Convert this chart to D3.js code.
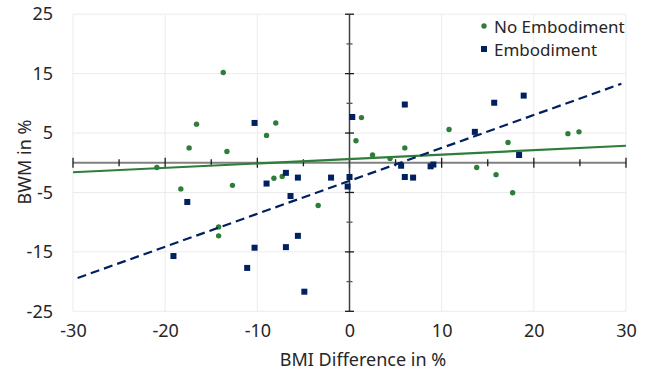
<!DOCTYPE html>
<html>
<head>
<meta charset="utf-8">
<script src="https://cdn.jsdelivr.net/npm/d3@7"></script>
<style>
  body { margin: 0; background: #fff; }
  svg { font-family: 'Noto Sans', sans-serif; }
</style>
</head>
<body>
<div id="chart"></div>
<script>
// no embodiment: [bmi difference, bwm]
const noEmbodiment = [
  [-13.7, 15.2], [-16.6, 6.5], [-8.0, 6.7], [-9.0, 4.6], [-17.4, 2.5],
  [-13.3, 1.9], [-20.9, -0.8], [-8.2, -2.6], [-7.3, -2.3], [-12.7, -3.8],
  [1.3, 7.6], [0.7, 3.7], [2.5, 1.3], [4.4, 0.7], [6.0, 2.5],
  [10.8, 5.6], [17.2, 3.4], [23.7, 4.9], [24.9, 5.2], [13.8, -0.8],
  [15.9, -2.0], [17.7, -5.05], [-18.3, -4.4], [-14.2, -10.8], [-14.2, -12.3],
  [-3.4, -7.2]
];

// embodiment: [bmi difference, bwm]
const embodiment = [
  [-10.3, 6.7], [-6.9, -1.7], [-9.0, -3.5], [0.3, 7.7], [6.0, 9.8],
  [-5.6, -2.5], [-2.0, -2.5], [0.0, -2.4], [5.6, -0.5], [6.0, -2.4],
  [6.9, -2.5], [8.8, -0.6], [9.1, -0.3], [15.7, 10.1], [18.9, 11.3],
  [13.6, 5.2], [18.4, 1.3], [-17.6, -6.6], [-6.4, -5.6], [-10.3, -14.3],
  [-19.1, -15.7], [-11.1, -17.7], [-6.9, -14.2], [-5.6, -12.3], [-4.9, -21.7],
  [-0.2, -4.0]
];

// linear trendlines: [x, y] endpoints
const trendNoEmbodiment = [[-30, -1.6], [30, 2.86]];
const trendEmbodiment = [[-29.5, -19.4], [29.5, 13.3]];

const xTicks = [-30, -20, -10, 0, 10, 20, 30];
const yTicks = [25, 15, 5, -5, -15, -25];
const xMinorTicks = d3.range(-25, 30, 10);
const yMinorTicks = [20, 10, -10, -20];

const width = 652;
const height = 375;
const green = '#2f7d3a';
const navy = '#002060';

const svg = d3.select('#chart')
  .append('svg')
  .attr('width', width)
  .attr('height', height);

const x = d3.scaleLinear()
  .domain([-30, 30])
  .range([73, 626]);

const y = d3.scaleLinear()
  .domain([-25, 25])
  .range([311.3, 14.2]);

// gridlines
svg.append('g')
  .selectAll('line')
  .data(xTicks)
  .join('line')
  .attr('x1', (d) => x(d))
  .attr('x2', (d) => x(d))
  .attr('y1', y(25))
  .attr('y2', y(-25))
  .attr('stroke', '#ebebeb')
  .attr('stroke-width', 1);

svg.append('g')
  .selectAll('line')
  .data(yTicks)
  .join('line')
  .attr('x1', x(-30))
  .attr('x2', x(30))
  .attr('y1', (d) => y(d))
  .attr('y2', (d) => y(d))
  .attr('stroke', '#ebebeb')
  .attr('stroke-width', 1);

// tick labels along the bottom and left of the plot
svg.append('g')
  .attr('transform', `translate(0,${y(-25) + 10})`)
  .call(d3.axisBottom(x).tickValues(xTicks).tickSize(0).tickFormat((d) => d))
  .call((g) => g.select('.domain').remove())
  .call((g) => g.selectAll('text')
    .attr('font-size', 18)
    .attr('fill', '#262626')
    .attr('font-family', 'Noto Sans'));

svg.append('g')
  .attr('transform', `translate(${x(-30) - 17},0)`)
  .call(d3.axisLeft(y).tickValues(yTicks).tickSize(0).tickFormat((d) => d))
  .call((g) => g.select('.domain').remove())
  .call((g) => g.selectAll('text')
    .attr('font-size', 18)
    .attr('fill', '#262626')
    .attr('font-family', 'Noto Sans'));

// horizontal axis through y = 0 with crossing ticks
const hAxis = svg.append('g');
hAxis.append('line')
  .attr('x1', x(-30))
  .attr('x2', x(30))
  .attr('y1', y(0))
  .attr('y2', y(0))
  .attr('stroke', '#808080')
  .attr('stroke-width', 2);
hAxis.selectAll('.major')
  .data(xTicks)
  .join('line')
  .attr('class', 'major')
  .attr('x1', (d) => x(d))
  .attr('x2', (d) => x(d))
  .attr('y1', y(0) - 5)
  .attr('y2', y(0) + 5)
  .attr('stroke', '#1a1a1a')
  .attr('stroke-width', 1.3);
hAxis.selectAll('.minor')
  .data(xMinorTicks)
  .join('line')
  .attr('class', 'minor')
  .attr('x1', (d) => x(d))
  .attr('x2', (d) => x(d))
  .attr('y1', y(0) - 3.5)
  .attr('y2', y(0) + 3.5)
  .attr('stroke', '#1a1a1a')
  .attr('stroke-width', 1.3);

// vertical axis through x = 0
const vAxis = svg.append('g');
vAxis.append('line')
  .attr('x1', x(0))
  .attr('x2', x(0))
  .attr('y1', y(25))
  .attr('y2', y(-25))
  .attr('stroke', '#404040')
  .attr('stroke-width', 1.5);
vAxis.selectAll('.major')
  .data(yTicks)
  .join('line')
  .attr('class', 'major')
  .attr('x1', x(0) - 4.5)
  .attr('x2', x(0) + 4.5)
  .attr('y1', (d) => y(d))
  .attr('y2', (d) => y(d))
  .attr('stroke', '#1a1a1a')
  .attr('stroke-width', 1.3);
vAxis.selectAll('.minor')
  .data(yMinorTicks)
  .join('line')
  .attr('class', 'minor')
  .attr('x1', x(0) - 3)
  .attr('x2', x(0) + 3)
  .attr('y1', (d) => y(d))
  .attr('y2', (d) => y(d))
  .attr('stroke', '#555')
  .attr('stroke-width', 1.3);

// points
svg.append('g')
  .selectAll('circle')
  .data(noEmbodiment)
  .join('circle')
  .attr('cx', (d) => x(d[0]))
  .attr('cy', (d) => y(d[1]))
  .attr('r', 2.7)
  .attr('fill', green);

const sq = 6;
svg.append('g')
  .selectAll('rect')
  .data(embodiment)
  .join('rect')
  .attr('x', (d) => x(d[0]) - sq / 2)
  .attr('y', (d) => y(d[1]) - sq / 2)
  .attr('width', sq)
  .attr('height', sq)
  .attr('fill', navy);

// trendlines
const line = d3.line()
  .x((d) => x(d[0]))
  .y((d) => y(d[1]));

svg.append('path')
  .attr('d', line(trendNoEmbodiment))
  .attr('fill', 'none')
  .attr('stroke', green)
  .attr('stroke-width', 2.2);

svg.append('path')
  .attr('d', line(trendEmbodiment))
  .attr('fill', 'none')
  .attr('stroke', navy)
  .attr('stroke-width', 2.2)
  .attr('stroke-dasharray', '9 5');

// axis titles
svg.append('text')
  .attr('x', 363)
  .attr('y', 366)
  .attr('text-anchor', 'middle')
  .attr('font-size', 18)
  .attr('fill', '#262626')
  .text('BMI Difference in %');

svg.append('text')
  .attr('transform', `translate(31,162) rotate(-90)`)
  .attr('text-anchor', 'middle')
  .attr('font-size', 18)
  .attr('fill', '#262626')
  .text('BWM in %');

// legend
const legend = svg.append('g').attr('font-size', 17).attr('fill', '#262626');
legend.append('circle')
  .attr('cx', 484)
  .attr('cy', 26)
  .attr('r', 2.7)
  .attr('fill', green);
legend.append('text')
  .attr('x', 494)
  .attr('y', 33)
  .text('No Embodiment');
legend.append('rect')
  .attr('x', 484 - sq / 2)
  .attr('y', 49 - sq / 2)
  .attr('width', sq)
  .attr('height', sq)
  .attr('fill', navy);
legend.append('text')
  .attr('x', 494)
  .attr('y', 56)
  .text('Embodiment');
</script>
</body>
</html>
